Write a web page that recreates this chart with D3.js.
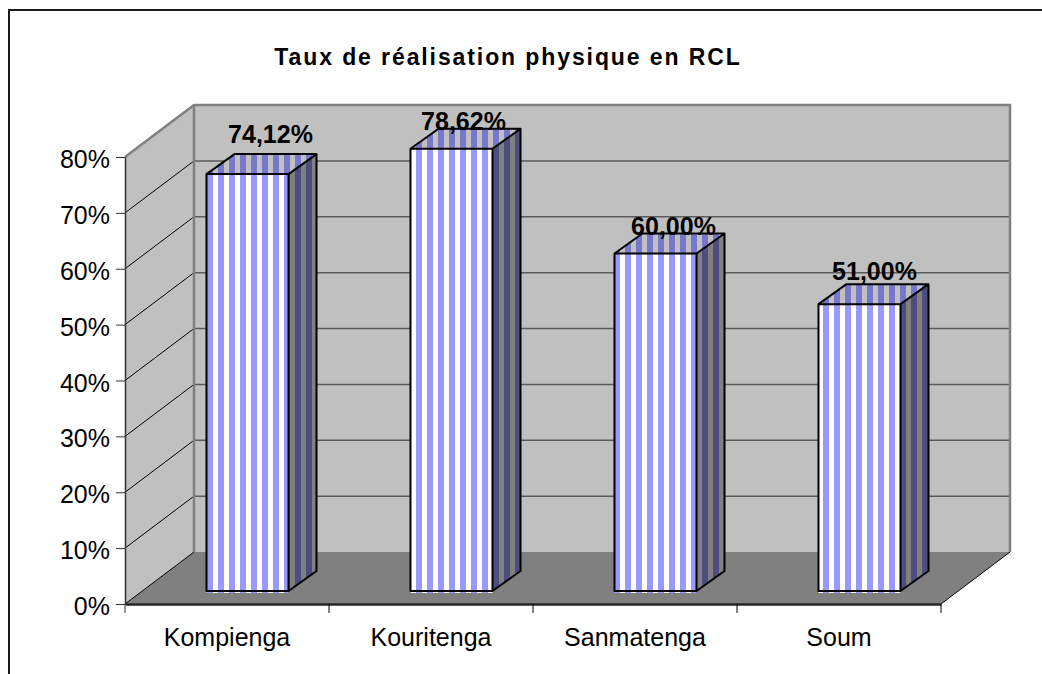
<!DOCTYPE html>
<html>
<head>
<meta charset="utf-8">
<title>Taux de réalisation physique en RCL</title>
<script src="https://cdn.jsdelivr.net/npm/d3@7"></script>
<style>
	html, body { margin: 0; padding: 0; background: #fff; }
	svg { display: block; }
	text { font-family: "Liberation Sans", Arial, sans-serif; fill: #000; }
</style>
</head>
<body>
<div id="vis-container"></div>
<script>
// data
var categories = ["Kompienga", "Kouritenga", "Sanmatenga", "Soum"];
var values = [74.12, 78.62, 60.00, 51.00];
var valueLabels = ["74,12%", "78,62%", "60,00%", "51,00%"];
var yTicks = [0, 10, 20, 30, 40, 50, 60, 70, 80];

// where the labels sit compared to the top of each bar
var labelShiftX = [23, 12, 18, 15];
var labelShiftY = [31, 19, 19, 24];

// svg container
var width = 1042;
var height = 674;

// front plane of the 3d box
var left = 125;
var right = 941;
var bottom = 604;
var top80 = 157;

// depth of the box and of the bars
var depthX = 69;
var depthY = 52;
var barDepthX = 28;
var barDepthY = 20;
var barShiftX = 20.5;

var svg = d3.select("#vis-container")
	.append("svg")
	.attr("width", width)
	.attr("height", height);

// vertical stripes, all in page coordinates
var defs = svg.append("defs");
function stripes(id, colorA, colorB) {
	var p = defs.append("pattern")
		.attr("id", id)
		.attr("patternUnits", "userSpaceOnUse")
		.attr("x", 207)
		.attr("y", 0)
		.attr("width", 11)
		.attr("height", 11);
	p.append("rect").attr("width", 11).attr("height", 11).attr("fill", colorB);
	p.append("rect").attr("width", 6).attr("height", 11).attr("fill", colorA);
}
stripes("front", "#9999ff", "#ffffff");
stripes("side", "#4d4d80", "#808080");
stripes("roof", "#7777cc", "#c0c0c0");

var xscale = d3.scaleBand()
	.domain(categories)
	.range([left, right])
	.paddingInner(0.598)
	.paddingOuter(0.299);
var yscale = d3.scaleLinear().domain([0, 80]).range([bottom, top80]);
// the bars stand a bit deeper in the box
var barscale = d3.scaleLinear().domain([0, 80]).range([591, 141]);

// outer frame
svg.append("path")
	.attr("d", "M9,674V10H" + width)
	.attr("fill", "none")
	.attr("stroke", "#1a1a1a")
	.attr("stroke-width", 2);

svg.append("text")
	.attr("x", 508)
	.attr("y", 65)
	.attr("text-anchor", "middle")
	.style("font-size", "23px")
	.style("font-weight", "bold")
	.style("letter-spacing", "1.9px")
	.text("Taux de réalisation physique en RCL");

// walls and floor
svg.append("path")
	.attr("d", "M" + left + "," + bottom + "L" + left + "," + top80 + "L" + (left + depthX) + "," + (top80 - depthY)
		+ "L" + (right + depthX) + "," + (top80 - depthY) + "L" + (right + depthX) + "," + (bottom - depthY)
		+ "L" + (left + depthX) + "," + (bottom - depthY) + "Z")
	.attr("fill", "#c0c0c0");

svg.append("path")
	.attr("d", "M" + left + "," + bottom + "L" + (left + depthX) + "," + (bottom - depthY)
		+ "L" + (right + depthX) + "," + (bottom - depthY) + "L" + right + "," + bottom + "Z")
	.attr("fill", "#808080");

// gridlines on the back wall and the side wall
svg.selectAll(".grid")
	.data(yTicks.slice(1, -1))
	.enter()
	.append("line")
	.attr("class", "grid")
	.attr("x1", left + depthX)
	.attr("x2", right + depthX)
	.attr("y1", function(d) { return yscale(d) - depthY; })
	.attr("y2", function(d) { return yscale(d) - depthY; })
	.attr("stroke", "#5a5a5a")
	.attr("stroke-width", 1.5);

svg.selectAll(".sidegrid")
	.data(yTicks.slice(0, -1))
	.enter()
	.append("line")
	.attr("class", "sidegrid")
	.attr("x1", left)
	.attr("x2", left + depthX)
	.attr("y1", function(d) { return yscale(d); })
	.attr("y2", function(d) { return yscale(d) - depthY; })
	.attr("stroke", "#000")
	.attr("stroke-width", 1);

// wall edges
svg.append("path")
	.attr("d", "M" + left + "," + top80 + "L" + (left + depthX) + "," + (top80 - depthY)
		+ "L" + (right + depthX) + "," + (top80 - depthY) + "L" + (right + depthX) + "," + (bottom - depthY))
	.attr("fill", "none")
	.attr("stroke", "#808080")
	.attr("stroke-width", 2.5);
svg.append("path")
	.attr("d", "M" + (left + depthX) + "," + (top80 - depthY) + "V" + (bottom - depthY))
	.attr("fill", "none")
	.attr("stroke", "#808080")
	.attr("stroke-width", 2.5);

// right edge of the floor
svg.append("line")
	.attr("x1", right)
	.attr("y1", bottom)
	.attr("x2", right + depthX)
	.attr("y2", bottom - depthY)
	.attr("stroke", "#000")
	.attr("stroke-width", 1);

// bars
var bars = svg.selectAll(".bar")
	.data(categories)
	.enter()
	.append("g")
	.attr("class", "bar");

function barX(d) {
	return xscale(d) + barShiftX;
}
function barTop(d, i) {
	return barscale(values[i]);
}

bars.append("path")
	.attr("fill", "url(#roof)")
	.attr("d", function(d, i) {
		var x = barX(d), y = barTop(d, i), w = xscale.bandwidth();
		return "M" + x + "," + y + "l" + barDepthX + "," + (-barDepthY) + "h" + w + "l" + (-barDepthX) + "," + barDepthY + "Z";
	});

bars.append("path")
	.attr("fill", "url(#side)")
	.attr("d", function(d, i) {
		var x = barX(d) + xscale.bandwidth(), y = barTop(d, i);
		return "M" + x + "," + y + "l" + barDepthX + "," + (-barDepthY) + "V" + (barscale(0) - barDepthY) + "L" + x + "," + barscale(0) + "Z";
	});

bars.append("rect")
	.attr("x", barX)
	.attr("y", barTop)
	.attr("width", xscale.bandwidth())
	.attr("height", function(d, i) { return barscale(0) - barTop(d, i) + 2; })
	.attr("fill", "url(#front)");

// bar outline
bars.append("path")
	.attr("fill", "none")
	.attr("stroke", "#000")
	.attr("stroke-width", 2)
	.attr("stroke-linejoin", "round")
	.attr("d", function(d, i) {
		var x = barX(d), y = barTop(d, i), w = xscale.bandwidth(), y0 = barscale(0);
		return "M" + x + "," + y0 + "V" + y + "h" + w + "V" + y0 + "Z"
			+ "M" + x + "," + y + "l" + barDepthX + "," + (-barDepthY) + "h" + w + "l" + (-barDepthX) + "," + barDepthY
			+ "M" + (x + w + barDepthX) + "," + (y - barDepthY) + "V" + (y0 - barDepthY) + "L" + (x + w) + "," + y0;
	});

bars.append("text")
	.attr("x", function(d, i) { return barX(d) + xscale.bandwidth() / 2 + labelShiftX[i]; })
	.attr("y", function(d, i) { return barTop(d, i) - labelShiftY[i]; })
	.attr("text-anchor", "middle")
	.style("font-size", "25px")
	.style("font-weight", "bold")
	.text(function(d, i) { return valueLabels[i]; });

// axes
var yaxis = d3.axisLeft(yscale)
	.tickValues(yTicks)
	.tickFormat(function(d) { return d + "%"; })
	.tickSize(9)
	.tickSizeOuter(0)
	.tickPadding(6);

var yaxisg = svg.append("g")
	.attr("transform", "translate(" + left + ",0)")
	.call(yaxis);
yaxisg.selectAll("text").style("font-size", "25px").attr("dy", "0.42em");
yaxisg.selectAll("line").attr("stroke", "#333");
yaxisg.select(".domain").attr("stroke", "#333").attr("stroke-width", 1.5);

var xaxis = d3.axisBottom(xscale)
	.tickSize(0)
	.tickPadding(24);

var xaxisg = svg.append("g")
	.attr("transform", "translate(0," + bottom + ")")
	.call(xaxis);
xaxisg.selectAll("text").style("font-size", "25px").attr("dy", "0.71em");
xaxisg.select(".domain").attr("stroke", "#262626").attr("stroke-width", 2.5);

// ticks between the categories on the bottom axis
xaxisg.selectAll(".sep")
	.data(categories)
	.enter()
	.append("line")
	.attr("class", "sep")
	.attr("x1", function(d) { return xscale(d) - xscale.step() * 0.299 + xscale.step(); })
	.attr("x2", function(d) { return xscale(d) - xscale.step() * 0.299 + xscale.step(); })
	.attr("y1", 0)
	.attr("y2", 9)
	.attr("stroke", "#000");
xaxisg.append("line")
	.attr("x1", left)
	.attr("x2", left)
	.attr("y1", 0)
	.attr("y2", 9)
	.attr("stroke", "#333");
</script>
</body>
</html>
